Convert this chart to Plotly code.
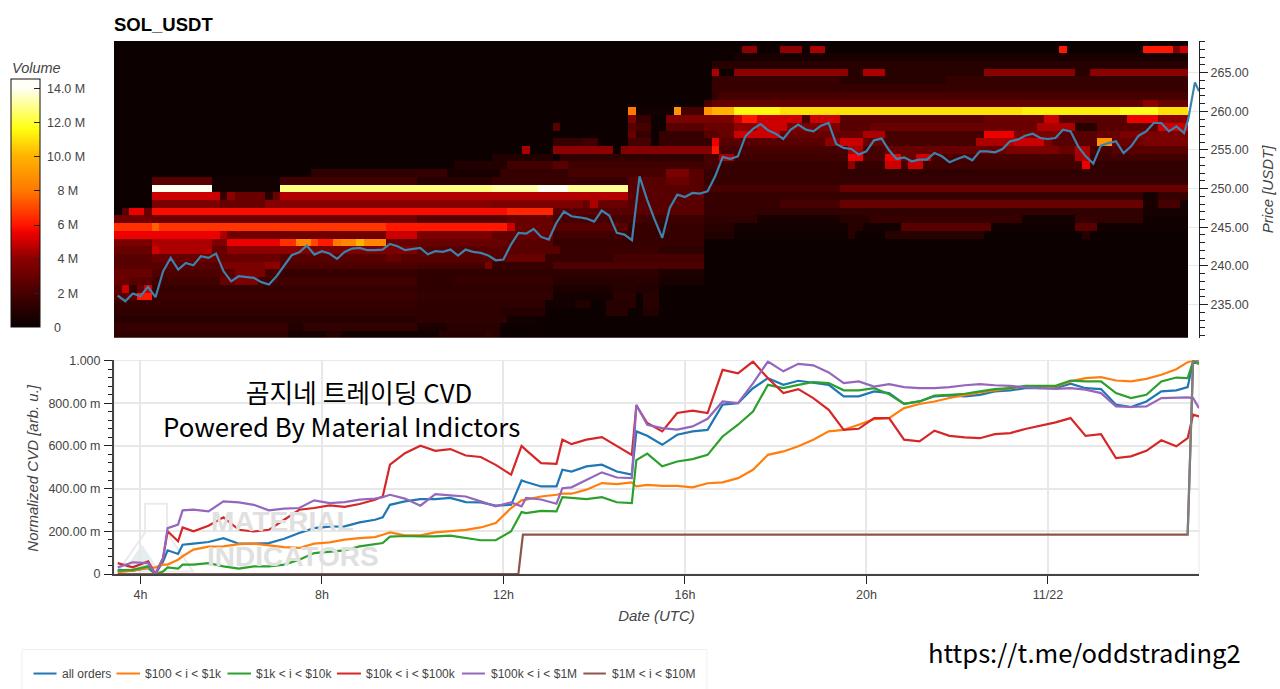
import plotly.graph_objects as go

# ---------- chart values ----------
symbol = "SOL_USDT"
tick_hours = [4, 8, 12, 16, 20, 24]
tick_hour_labels = ["4h", "8h", "12h", "16h", "20h", "11/22"]
price_ticks = [235, 240, 245, 250, 255, 260, 265]
price_tick_labels = ["235.00", "240.00", "245.00", "250.00", "255.00", "260.00", "265.00"]
cvd_ticks = [0, 0.2, 0.4, 0.6, 0.8, 1.0]
cvd_tick_labels = ["0", "200.00 m", "400.00 m", "600.00 m", "800.00 m", "1.000"]
volume_ticks = [0, 2, 4, 6, 8, 10, 12, 14]
volume_tick_labels = ["\u00a0\u00a0\u00a00", "\u00a0\u00a0\u00a0\u00a02 M", "\u00a0\u00a0\u00a0\u00a04 M", "\u00a0\u00a0\u00a0\u00a06 M",
                      "\u00a0\u00a0\u00a0\u00a08 M", "\u00a010.0 M", "\u00a012.0 M", "\u00a014.0 M"]

price_bins = list(range(231, 270))
n_columns = 142
start_hour = 3.418

# resting volume in millions: price bin -> (first column, end column, value)
volume_runs = {
    268: [(83,85,4),(88,91,4),(92,94,4.5),(125,126,6),(136,140,6),(140,141,3.5),(141,142,5)],
    267: [(82,142,.5)],
    266: [(79,142,1.0)],
    265: [(79,80,4.5),(82,97,4),(97,99,1),(99,102,4.5),(102,115,1),(115,127,4),(127,129,1),(129,142,4)],
    264: [(79,96,1.5),(96,110,1.0),(110,142,1.4)],
    263: [(79,142,1.5)],
    262: [(79,80,1.5),(80,142,2)],
    261: [(78,79,2),(79,136,2.8),(136,138,4),(138,142,3)],
    260: [(68,69,8),(69,74,.3),(74,75,9),(75,78,2),(78,79,9),(79,82,10),(82,88,11.5),(88,96,11),(96,120,11),(120,133,11.3),(133,138,11.8),(138,142,11)],
    259: [(68,69,3.5),(69,71,1.5),(73,82,3.5),(82,83,5),(83,85,6),(85,91,5),(91,92,2),(92,96,5),(96,100,2.5),(100,115,2.5),(115,123,3),(123,125,5),(125,134,2.5),(134,138,5.5),(138,142,4)],
    258: [(58,59,2.5),(68,69,2.5),(69,71,2),(73,78,2.5),(78,82,3),(82,85,4),(85,89,5),(89,96,3.5),(96,100,2.5),(100,118,3),(118,122,3),(122,127,4.5),(127,130,1),(130,138,2.5),(138,142,5)],
    257: [(68,69,3),(69,71,1.5),(72,78,1.5),(78,80,2.5),(80,82,3),(82,88,5),(88,96,3),(96,99,3),(99,102,4.5),(102,115,2),(115,119,5.5),(119,125,3.5),(125,130,2.5),(130,133,3),(133,142,3.5)],
    256: [(58,62,1.5),(62,64,1.8),(68,71,2),(72,79,1.5),(79,80,5.5),(80,82,2.5),(82,94,2.5),(94,96,4),(96,99,5),(99,102,3),(102,114,2),(114,119,4.5),(119,123,5),(123,124,3.5),(124,130,2.5),(130,132,9),(132,136,3),(136,142,3.5)],
    255: [(54,55,4.5),(58,66,4),(67,79,3.8),(79,80,6),(80,97,2),(97,99,4.5),(99,102,2),(102,108,3),(108,118,3),(118,125,3.5),(125,127,3),(127,129,4.5),(129,132,2),(132,142,2.5)],
    254: [(50,58,.8),(59,78,1.3),(78,80,2),(80,82,4.5),(82,97,1.8),(97,99,5.5),(99,102,2),(102,104,5.5),(104,106,3),(106,108,5),(108,127,2),(127,129,4.5),(129,142,1.8)],
    253: [(45,52,.8),(52,58,1.8),(58,60,2.5),(60,78,1.8),(78,80,2),(80,97,1.5),(97,98,4),(98,102,1.5),(102,104,5),(104,105,2),(105,107,5),(107,128,1.8),(128,129,5.5),(129,142,1.3)],
    252: [(26,40,1.2),(40,44,1.5),(44,51,.5),(51,60,1.5),(60,73,2),(73,76,3.5),(76,78,2.5),(78,96,1.5),(96,142,1.3)],
    251: [(5,13,2.5),(13,22,.3),(22,40,1.8),(40,50,1),(50,68,1.5),(68,73,2.5),(73,76,3),(76,78,2.5),(78,142,1.5)],
    250: [(5,13,14),(13,22,.3),(22,40,12.8),(40,50,12.8),(50,56,13.2),(56,60,14),(60,68,13),(68,78,2.5),(78,96,2),(96,142,3)],
    249: [(5,14,5),(14,15,1.5),(15,16,4),(16,20,3),(20,21,1),(21,22,3),(22,68,4.6),(68,78,2.5),(78,136,1.5),(136,138,.4),(138,142,1.5)],
    248: [(5,14,3.5),(14,20,3),(20,50,3.8),(50,62,3.5),(62,63,3),(63,64,4.5),(64,68,3),(68,78,2.5),(78,88,1.5),(88,96,2),(96,136,3),(136,138,.5),(138,141,2),(141,142,.4)],
    247: [(1,2,2.5),(2,4,5.5),(4,5,3),(5,52,5.8),(52,58,6.3),(58,78,2.5),(78,85,1.5),(85,136,1.3),(136,142,.4)],
    246: [(0,40,3.2),(40,52,2.5),(52,58,3),(58,70,2),(70,78,1.7),(78,85,1.2),(85,96,.5),(96,100,1),(100,120,1.5),(120,127,.3),(127,130,1.5),(130,136,1.3),(136,142,.2)],
    245: [(0,5,6.5),(5,6,7.5),(6,36,6.6),(36,40,6),(40,52,6),(52,53,5),(53,58,3),(58,68,2.5),(68,78,1.5),(78,82,1),(82,97,.3),(97,99,1),(99,104,.3),(104,116,2.5),(116,127,.2),(127,130,2.5),(130,142,.2)],
    244: [(0,14,5.5),(14,15,4.5),(15,36,3.2),(36,40,5),(40,50,3.5),(50,54,2.8),(54,58,3),(58,68,1.8),(68,78,1.5),(78,82,.8),(82,97,.2),(97,98,1),(102,115,1),(128,129,1)],
    243: [(0,5,3.5),(5,13,4.5),(13,15,3.5),(15,22,5.5),(22,24,6.5),(24,26,8.5),(26,27,7),(27,29,6),(29,30,8),(30,32,8.5),(32,33,10),(33,36,8.5),(36,40,3),(40,52,3),(52,58,2.5),(58,78,1.5)],
    242: [(0,5,3),(5,6,5),(6,13,4.5),(13,15,3),(15,25,4),(25,40,3.5),(40,59,2.5),(59,72,1.6),(72,78,1.2)],
    241: [(0,5,2.5),(5,22,3),(22,36,2.5),(36,38,3),(38,40,2.5),(40,52,2.5),(52,57,3),(57,66,1.5),(66,78,2)],
    240: [(0,14,2.5),(14,20,3.5),(20,22,4),(22,40,2.2),(40,49,2),(49,50,3.5),(50,58,1.5),(58,78,2.2)],
    239: [(0,5,3),(5,14,2.2),(14,16,2.5),(16,20,3.5),(20,22,2),(22,40,1.5),(40,72,1.2),(72,78,.6)],
    238: [(0,2,3),(2,5,2.5),(5,14,1.8),(14,16,3),(16,19,3.5),(19,40,1.8),(40,45,1.2),(45,58,1.5),(58,72,1),(72,78,.5)],
    237: [(0,1,2.5),(1,2,5),(2,3,1.2),(3,4,3),(4,5,5),(5,40,1.5),(40,58,1.2),(58,66,.6),(66,69,1),(69,72,.8)],
    236: [(0,3,2.5),(3,5,6),(5,40,1.6),(40,58,1.3),(58,66,.3),(66,69,1.1),(70,72,1)],
    235: [(0,40,1.5),(40,57,1.2),(57,61,.3),(61,63,.8),(65,69,1),(70,72,1)],
    234: [(0,40,1.3),(40,51,1.2),(51,57,.9),(65,68,1),(70,72,.8)],
    233: [(0,40,1),(40,52,1.2),(52,56,.3)],
    232: [(0,23,1.5),(23,25,.8),(25,40,1.3),(40,44,.6),(44,51,1.1)],
    231: [(0,23,1.2),(23,28,.4),(28,30,1),(30,40,.3),(40,43,.3),(43,49,1),(49,50,1.3),(50,51,1)],
}

# price line: one value every ten minutes from 03:30, then the final spike
price_hours = [3.5 + i / 6 for i in range(142)] + [27.09, 27.24, 27.33]
price_values = [
    236.16,235.43,236.42,236.08,237.28,235.95,239.3,241.03,239.53,240.39,240.09,241.25,241.03,241.59,239.3,238.0,
    238.66,238.58,238.45,237.9,237.6,238.66,239.96,241.38,241.77,242.63,241.47,241.9,241.6,240.9,241.81,242.24,
    242.33,242.03,242.03,242.11,242.84,242.54,242.03,242.2,
    242.33,241.5,241.9,241.81,242.11,241.34,242.11,241.81,241.68,241.34,240.73,240.82,242.76,244.27,244.18,244.78,
    243.75,243.41,245.56,247.03,246.42,246.29,246.12,245.73,247.16,246.51,244.27,244.05,243.32,251.59,248.58,245.99,
    243.62,247.5,249.22,248.92,249.44,249.35,249.66,251.59,254.09,253.84,254.18,256.77,257.72,258.36,257.54,257.11,
    256.42,257.63,258.28,257.63,257.41,258.15,258.49,255.78,
    255.26,255.13,254.4,254.83,256.25,256.47,254.96,253.84,254.05,253.53,253.75,253.75,254.61,254.18,253.41,253.84,
    254.18,253.66,254.83,254.83,254.7,255.13,256.12,256.34,256.85,257.11,256.55,256.42,256.55,257.63,257.41,255.47,
    254.18,253.23,255.56,255.91,256.12,254.61,255.47,256.85,257.41,258.49,258.49,257.41,258.06,257.2,
    258.92,263.75,262.59,
]

cvd_hours = [
    3.5,3.83,4.17,4.33,4.5,4.6,4.83,4.93,5.17,5.5,5.83,6.17,6.5,6.83,7.17,7.5,7.83,8.17,8.5,8.83,9.17,9.34,9.5,9.83,10.17,
    10.5,10.83,11.17,11.5,11.83,12.17,12.4,12.5,12.83,13.17,13.3,13.5,13.83,14.17,14.5,14.83,14.93,15.17,15.5,15.83,16.17,
    16.5,16.83,17.17,17.5,17.83,18.17,18.5,18.83,19.17,
    19.5,19.83,20.17,20.5,20.83,21.17,21.5,21.83,22.17,22.5,22.83,23.17,23.5,23.83,24.17,24.5,24.83,25.17,25.5,25.83,
    26.17,26.5,26.83,27.08,27.2,27.33,
]
cvd_all_orders = [
    .020,.016,.028,0,.059,.111,.094,.137,.142,.15,.168,.142,.142,.145,.165,.192,.215,.222,.223,.242,.254,.265,.324,.34,.351,
    .351,.356,.337,.335,.32,.324,.438,.431,.41,.41,.488,.48,.504,.512,.48,.465,.668,.647,.605,.652,.668,.675,.793,.8,.87,.917,.886,.905,.894,.886,
    .832,.832,.855,.847,.797,.808,.832,.836,.832,.839,.855,.86,.87,.87,.87,.891,.87,.866,.793,.782,.808,.855,.86,.875,.995,.984,
]
cvd_100_1k = [
    .009,.016,.028,.031,.044,.044,.067,.083,.114,.128,.129,.14,.142,.134,.126,.122,.142,.148,.161,.168,.173,.184,.195,.181,.181,
    .195,.2,.207,.218,.239,.309,.345,.348,.363,.371,.376,.376,.395,.426,.421,.429,.41,.417,.413,.413,.406,.425,.429,.449,.488,.558,.574,.598,.629,.668,
    .675,.699,.725,.73,.777,.796,.808,.824,.839,.85,.86,.87,.878,.87,.878,.902,.917,.922,.906,.902,.914,.933,.959,.992,1.0,.984,
]
cvd_1k_10k = [
    .016,.019,.036,0,.012,.031,.025,.044,.044,.051,.036,.025,.036,.036,.044,.067,.098,.106,.111,.129,.14,.145,.175,.178,.176,
    .176,.18,.168,.158,.158,.2,.29,.285,.296,.293,.36,.356,.351,.36,.336,.332,.533,.564,.504,.527,.538,.558,.644,.699,.761,.886,.871,.886,.899,.894,
    .86,.86,.87,.842,.797,.808,.835,.839,.844,.855,.866,.87,.881,.881,.881,.906,.902,.902,.847,.824,.839,.902,.92,.917,.995,.988,
]
cvd_10k_100k = [
    .051,.031,.059,0,.075,.2,.153,.218,.2,.226,.265,.207,.199,.207,.254,.301,.309,.321,.314,.328,.348,.363,.512,.566,.601,
    .577,.585,.555,.548,.511,.465,.6,.58,.519,.516,.629,.608,.629,.641,.598,.558,.789,.707,.668,.754,.765,.754,.956,.94,.995,.917,.847,.866,.824,.769,
    .675,.68,.73,.73,.629,.621,.671,.647,.64,.636,.655,.66,.679,.694,.71,.73,.647,.655,.543,.551,.577,.626,.598,.636,.746,.738,
]
cvd_100k_1m = [
    .031,.055,.051,0,.075,.215,.231,.298,.301,.293,.34,.335,.324,.298,.306,.309,.345,.332,.337,.348,.353,.36,.371,.353,.32,
    .374,.368,.363,.34,.317,.335,.317,.356,.349,.329,.402,.406,.44,.476,.452,.449,.792,.699,.683,.676,.691,.727,.808,.8,.893,.995,.949,.984,.977,.944,
    .894,.902,.878,.889,.875,.87,.87,.875,.884,.889,.884,.881,.874,.87,.867,.87,.863,.847,.785,.782,.785,.824,.827,.827,.824,.777,
]
cvd_1m_10m_hours = [3.5, 12.33, 12.43, 27.08, 27.2, 27.33]
cvd_1m_10m = [0, 0, .184, .184, 1.0, 1.0]
extra_hours = [27.08, 27.2, 27.33]
extra_values = [.184, 1.0, 1.0]

series_names = ["all orders", "$100 < i < $1k", "$1k < i < $10k", "$10k < i < $100k", "$100k < i < $1M", "$1M < i < $10M"]
series_colors = ["#1f77b4", "#ff7f0e", "#2ca02c", "#d62728", "#9467bd", "#8c564b"]

heat_stops = [0, .07, .137, .275, .38, .41, .55, .69, .80, .96, 1]
heat_colors = ["#0a0000", "#280000", "#460000", "#8c0000", "#ee0000", "#ff1500", "#ff7800", "#ffb400", "#ffff10", "#fffff0", "#ffffff"]

assert len(price_hours) == len(price_values)
for s in (cvd_all_orders, cvd_100_1k, cvd_1k_10k, cvd_10k_100k, cvd_100k_1m):
    assert len(s) == len(cvd_hours)

# ---------- table built from the values above ----------
volume = []
for p in price_bins:
    row = [0.1] * n_columns
    for a, b, v in volume_runs.get(p, []):
        for c in range(a, b):
            row[c] = v
    volume.append(row)
column_hours = [start_hour + (c + .5) / 6 for c in range(n_columns)]

# ---------- layout helpers ----------
W, H = 1280, 689
L, R, T, B = 114.0, 1199.3, 41.0, 574.4
def fx(px): return (px - L) / (R - L)
def fy(py): return (B - py) / (B - T)

TXT = "#444444"
FONT = "Liberation Sans"
GRID = "#e8e8e8"

fig = go.Figure()
fig.add_trace(go.Heatmap(
    x=column_hours, y=price_bins, z=volume, xaxis="x2", yaxis="y2", zmin=0, zmax=14.55, zsmooth=False,
    colorscale=[[s, c] for s, c in zip(heat_stops, heat_colors)], hoverinfo="skip",
    colorbar=dict(
        xref="paper", yref="paper", x=fx(11), xanchor="left", y=fy(327.5), yanchor="bottom",
        xpad=0, ypad=0, len=248, lenmode="pixels", thickness=29, thicknessmode="pixels",
        outlinecolor="#111111", outlinewidth=1, borderwidth=0,
        tickmode="array", tickvals=volume_ticks, ticktext=volume_tick_labels,
        ticks="inside", ticklen=6, tickcolor="#222222", tickfont=dict(family=FONT, size=12.5, color=TXT),
    ),
))
fig.add_trace(go.Scatter(x=price_hours, y=price_values, xaxis="x2", yaxis="y2", mode="lines",
                         line=dict(color="#3d82ad", width=2.2), showlegend=False, name="price"))
for vals, name, col in zip([cvd_all_orders, cvd_100_1k, cvd_1k_10k, cvd_10k_100k, cvd_100k_1m], series_names, series_colors):
    fig.add_trace(go.Scatter(x=cvd_hours, y=vals, mode="lines", name=name, line=dict(color=col, width=2.2), showlegend=False))
fig.add_trace(go.Scatter(x=cvd_1m_10m_hours, y=cvd_1m_10m, mode="lines", name=series_names[5],
                         line=dict(color=series_colors[5], width=2.2), showlegend=False))
fig.add_trace(go.Scatter(x=extra_hours, y=extra_values, mode="lines", name="", line=dict(color="#7f7f7f", width=2.2), showlegend=False))

xrange_hours = [3.418, 27.33]
ann = []
def text(px, py, s, size, color="#000000", family=FONT, anchor="left", **extra):
    ann.append(dict(xref="paper", yref="paper", x=fx(px), y=fy(py), text=s, showarrow=False, xanchor=anchor, yanchor="middle",
                    font=dict(family=family, size=size, color=color), **extra))

text(10, 68, "<i>Volume</i>", 14.5, TXT)
text(33, 468, "<i>Normalized CVD [arb. u.]</i>", 15, TXT, anchor="center", textangle=-90)
CJK = "Noto Sans CJK KR"
overlay_title = "\u00a0\u00a0\u00a0\u00a0\u00a0\u00a0곰지네 트레이딩 CVD<br>Powered By Material Indictors"
text(341.5, 409, overlay_title, 25.8, family=CJK, anchor="center", align="center")
text(1085, 652, "https://t.me/oddstrading2", 25.6, family=CJK, anchor="center")
text(282.5, 522, "<b>MATERIAL</b>", 28, "#e0e0e0", FONT, "center")
text(293, 557, "<b>INDICATORS</b>", 28, "#e0e0e0", FONT, "center")

shapes = []
def px_path(points, **kw):
    d = "M" + " L".join(f"{fx(a):.5f},{fy(b):.5f}" for a, b in points) + " Z"
    shapes.append(dict(type="path", xref="paper", yref="paper", path=d, layer="below", **kw))

px_path([(145, 504), (167, 504), (167, 533), (193, 572), (118, 572), (145, 533)], line=dict(color="#e9ecee", width=2))
px_path([(142, 545), (160, 572), (123, 572)], line=dict(width=0), fillcolor="#e6edf0")
shapes.append(dict(type="rect", xref="paper", yref="paper", x0=0, x1=1, y0=0, y1=fy(360.7), line=dict(color=GRID, width=1), layer="below"))
px_path([(22, 650), (707, 650), (707, 700), (22, 700)], line=dict(color="#f0f0f0", width=1), fillcolor="#ffffff")

legend_lines = [(33.5, 56.5), (116.5, 140), (227.5, 251), (337, 361), (462, 485), (583.5, 606)]
legend_text = [60, 143, 254, 364, 489, 610]
for (a, b), t, name, col in zip(legend_lines, legend_text, series_names, series_colors):
    shapes.append(dict(type="line", xref="paper", yref="paper", x0=fx(a), x1=fx(b), y0=fy(674), y1=fy(674), line=dict(color=col, width=2)))
    text(t, 674, name.replace("<", "&lt;"), 12, TXT)

fig.update_layout(
    width=W, height=H, paper_bgcolor="white", plot_bgcolor="white", showlegend=False,
    margin=dict(l=L, r=W - R, t=T, b=H - B, pad=0, autoexpand=False),
    font=dict(family=FONT, size=12.5, color=TXT),
    title=dict(text=f"<b>{symbol}</b>", x=fx(114), xref="paper", xanchor="left", y=1 - 25 / H, yref="container", yanchor="middle",
               font=dict(family=FONT, size=18.5, color="#000000")),
    annotations=ann, shapes=shapes,
    xaxis=dict(domain=[0, 1], anchor="y", range=xrange_hours, tickmode="array", tickvals=tick_hours, ticktext=tick_hour_labels,
               ticks="outside", ticklen=8, tickcolor="#222222", tickfont=dict(size=12.5, color=TXT), showgrid=True, gridcolor=GRID, gridwidth=1.5,
               showline=True, linecolor="#444444", linewidth=2, zeroline=False,
               title=dict(text="<i>Date (UTC)</i>", font=dict(size=15, color=TXT), standoff=9)),
    yaxis=dict(domain=[0, fy(360.7)], anchor="x", range=[0, 1], tickmode="array", tickvals=cvd_ticks, ticktext=cvd_tick_labels,
               ticks="outside", ticklen=8, ticklabelstandoff=1, tickcolor="#222222", showgrid=True, gridcolor=GRID, gridwidth=1.5, zeroline=False,
               showline=True, linecolor="#444444", linewidth=2,
               minor=dict(tickmode="array", tickvals=[i * .04 for i in range(26)], ticks="outside", ticklen=4, tickcolor="#222222", showgrid=False)),
    xaxis2=dict(domain=[0, 1], anchor="y2", range=xrange_hours, showticklabels=False, ticks="", showgrid=False, zeroline=False, showline=False,
                tickmode="array", tickvals=tick_hours),
    yaxis2=dict(domain=[fy(338), 1], anchor="x2", side="right", range=[230.7, 269.1], tickmode="array", tickvals=price_ticks, ticktext=price_tick_labels,
                ticks="outside", ticklen=8, tickcolor="#222222", showgrid=True, gridcolor=GRID, zeroline=False,
                showline=True, linecolor="#222222", linewidth=1,
                minor=dict(tickmode="array", tickvals=list(range(231, 270)), ticks="outside", ticklen=5, tickcolor="#222222", showgrid=False),
                title=dict(text="<i>Price [USDT]</i>", font=dict(size=15, color=TXT), standoff=14)),
)

fig.write_html("out.html", post_script="document.body.style.margin='0';", config={"displayModeBar": False})
